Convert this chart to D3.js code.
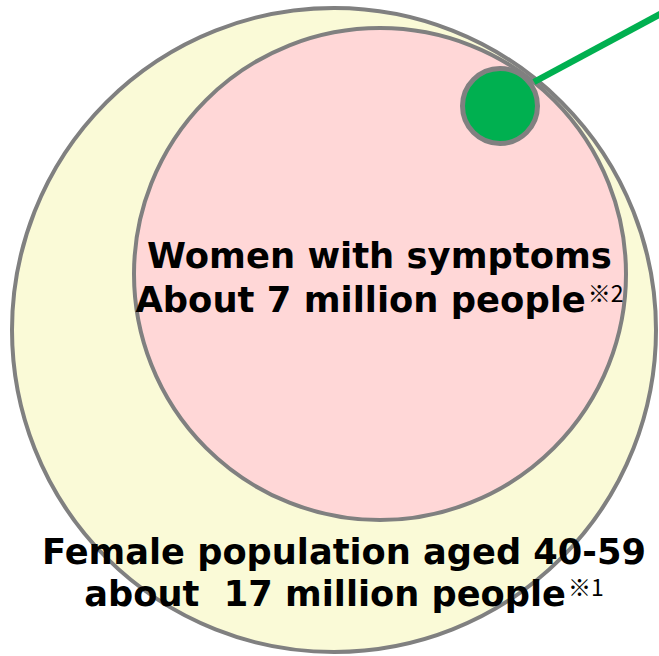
<!DOCTYPE html>
<html>
<head>
<meta charset="utf-8">
<script src="https://cdn.jsdelivr.net/npm/d3@7"></script>
<style>
  html, body { margin: 0; padding: 0; background: #ffffff; }
  svg { display: block; }
</style>
</head>
<body>
<div id="chart"></div>
<script>
// Nested population groups (millions of people)
const groupNames = ["Female population aged 40-59", "Women with symptoms"];
const groupValues = [17, 7];
const groupPrefixes = ["about  ", "About "];
const groupNotes = ["※1", "※2"];

const W = 659, H = 656;
const svg = d3.select("#chart").append("svg")
  .attr("width", W).attr("height", H);

// Layout of the nested circles (diagram coordinates)
const outer = { cx: 334, cy: 330, r: 322, fill: "#FAFAD7" };
const inner = { cx: 380, cy: 274, r: 246, fill: "#FFD7D7" };
const dot   = { cx: 500, cy: 106, r: 37.5, fill: "#00B050" };
const stroke = "#808080";

svg.append("circle")
  .attr("cx", outer.cx).attr("cy", outer.cy).attr("r", outer.r)
  .attr("fill", outer.fill).attr("stroke", stroke).attr("stroke-width", 4);

svg.append("circle")
  .attr("cx", inner.cx).attr("cy", inner.cy).attr("r", inner.r)
  .attr("fill", inner.fill).attr("stroke", stroke).attr("stroke-width", 4);

svg.append("circle")
  .attr("cx", dot.cx).attr("cy", dot.cy).attr("r", dot.r)
  .attr("fill", dot.fill).attr("stroke", stroke).attr("stroke-width", 5);

// Leader line from the small circle toward the top-right corner
svg.append("line")
  .attr("x1", 534).attr("y1", 82)
  .attr("x2", 664).attr("y2", 12)
  .attr("stroke", dot.fill).attr("stroke-width", 6.5)
  .attr("stroke-linecap", "butt");

// Two-line labels; the first line is fitted to its horizontal span
const fontFamily = "'DejaVu Sans', Verdana, sans-serif";
const labelSpecs = [
  { idx: 1, x0: 147, x1: 612, b1: 268, b2: 312 },
  { idx: 0, x0: 42,  x1: 646, b1: 564, b2: 606 }
];

labelSpecs.forEach(spec => {
  const i = spec.idx;
  const g = svg.append("g");
  const t1 = g.append("text")
    .attr("font-family", fontFamily).attr("font-weight", "bold")
    .attr("font-size", 34).attr("fill", "#000")
    .text(groupNames[i]);
  const w1 = t1.node().getComputedTextLength();
  const fs = 34 * (spec.x1 - spec.x0) / w1;
  t1.attr("font-size", fs)
    .attr("x", (spec.x0 + spec.x1) / 2).attr("y", spec.b1)
    .attr("text-anchor", "middle");

  const t2 = g.append("text")
    .attr("font-family", fontFamily).attr("font-weight", "bold")
    .attr("font-size", fs).attr("fill", "#000")
    .attr("x", (spec.x0 + spec.x1) / 2).attr("y", spec.b2)
    .attr("text-anchor", "middle")
    .attr("xml:space", "preserve");
  t2.append("tspan").text(groupPrefixes[i] + groupValues[i] + " million people");
  t2.append("tspan")
    .attr("font-family", "'Noto Sans CJK JP', sans-serif")
    .attr("font-weight", "normal")
    .attr("font-size", 23)
    .attr("dx", 2)
    .attr("dy", -10)
    .text(groupNotes[i]);
});
</script>
</body>
</html>
